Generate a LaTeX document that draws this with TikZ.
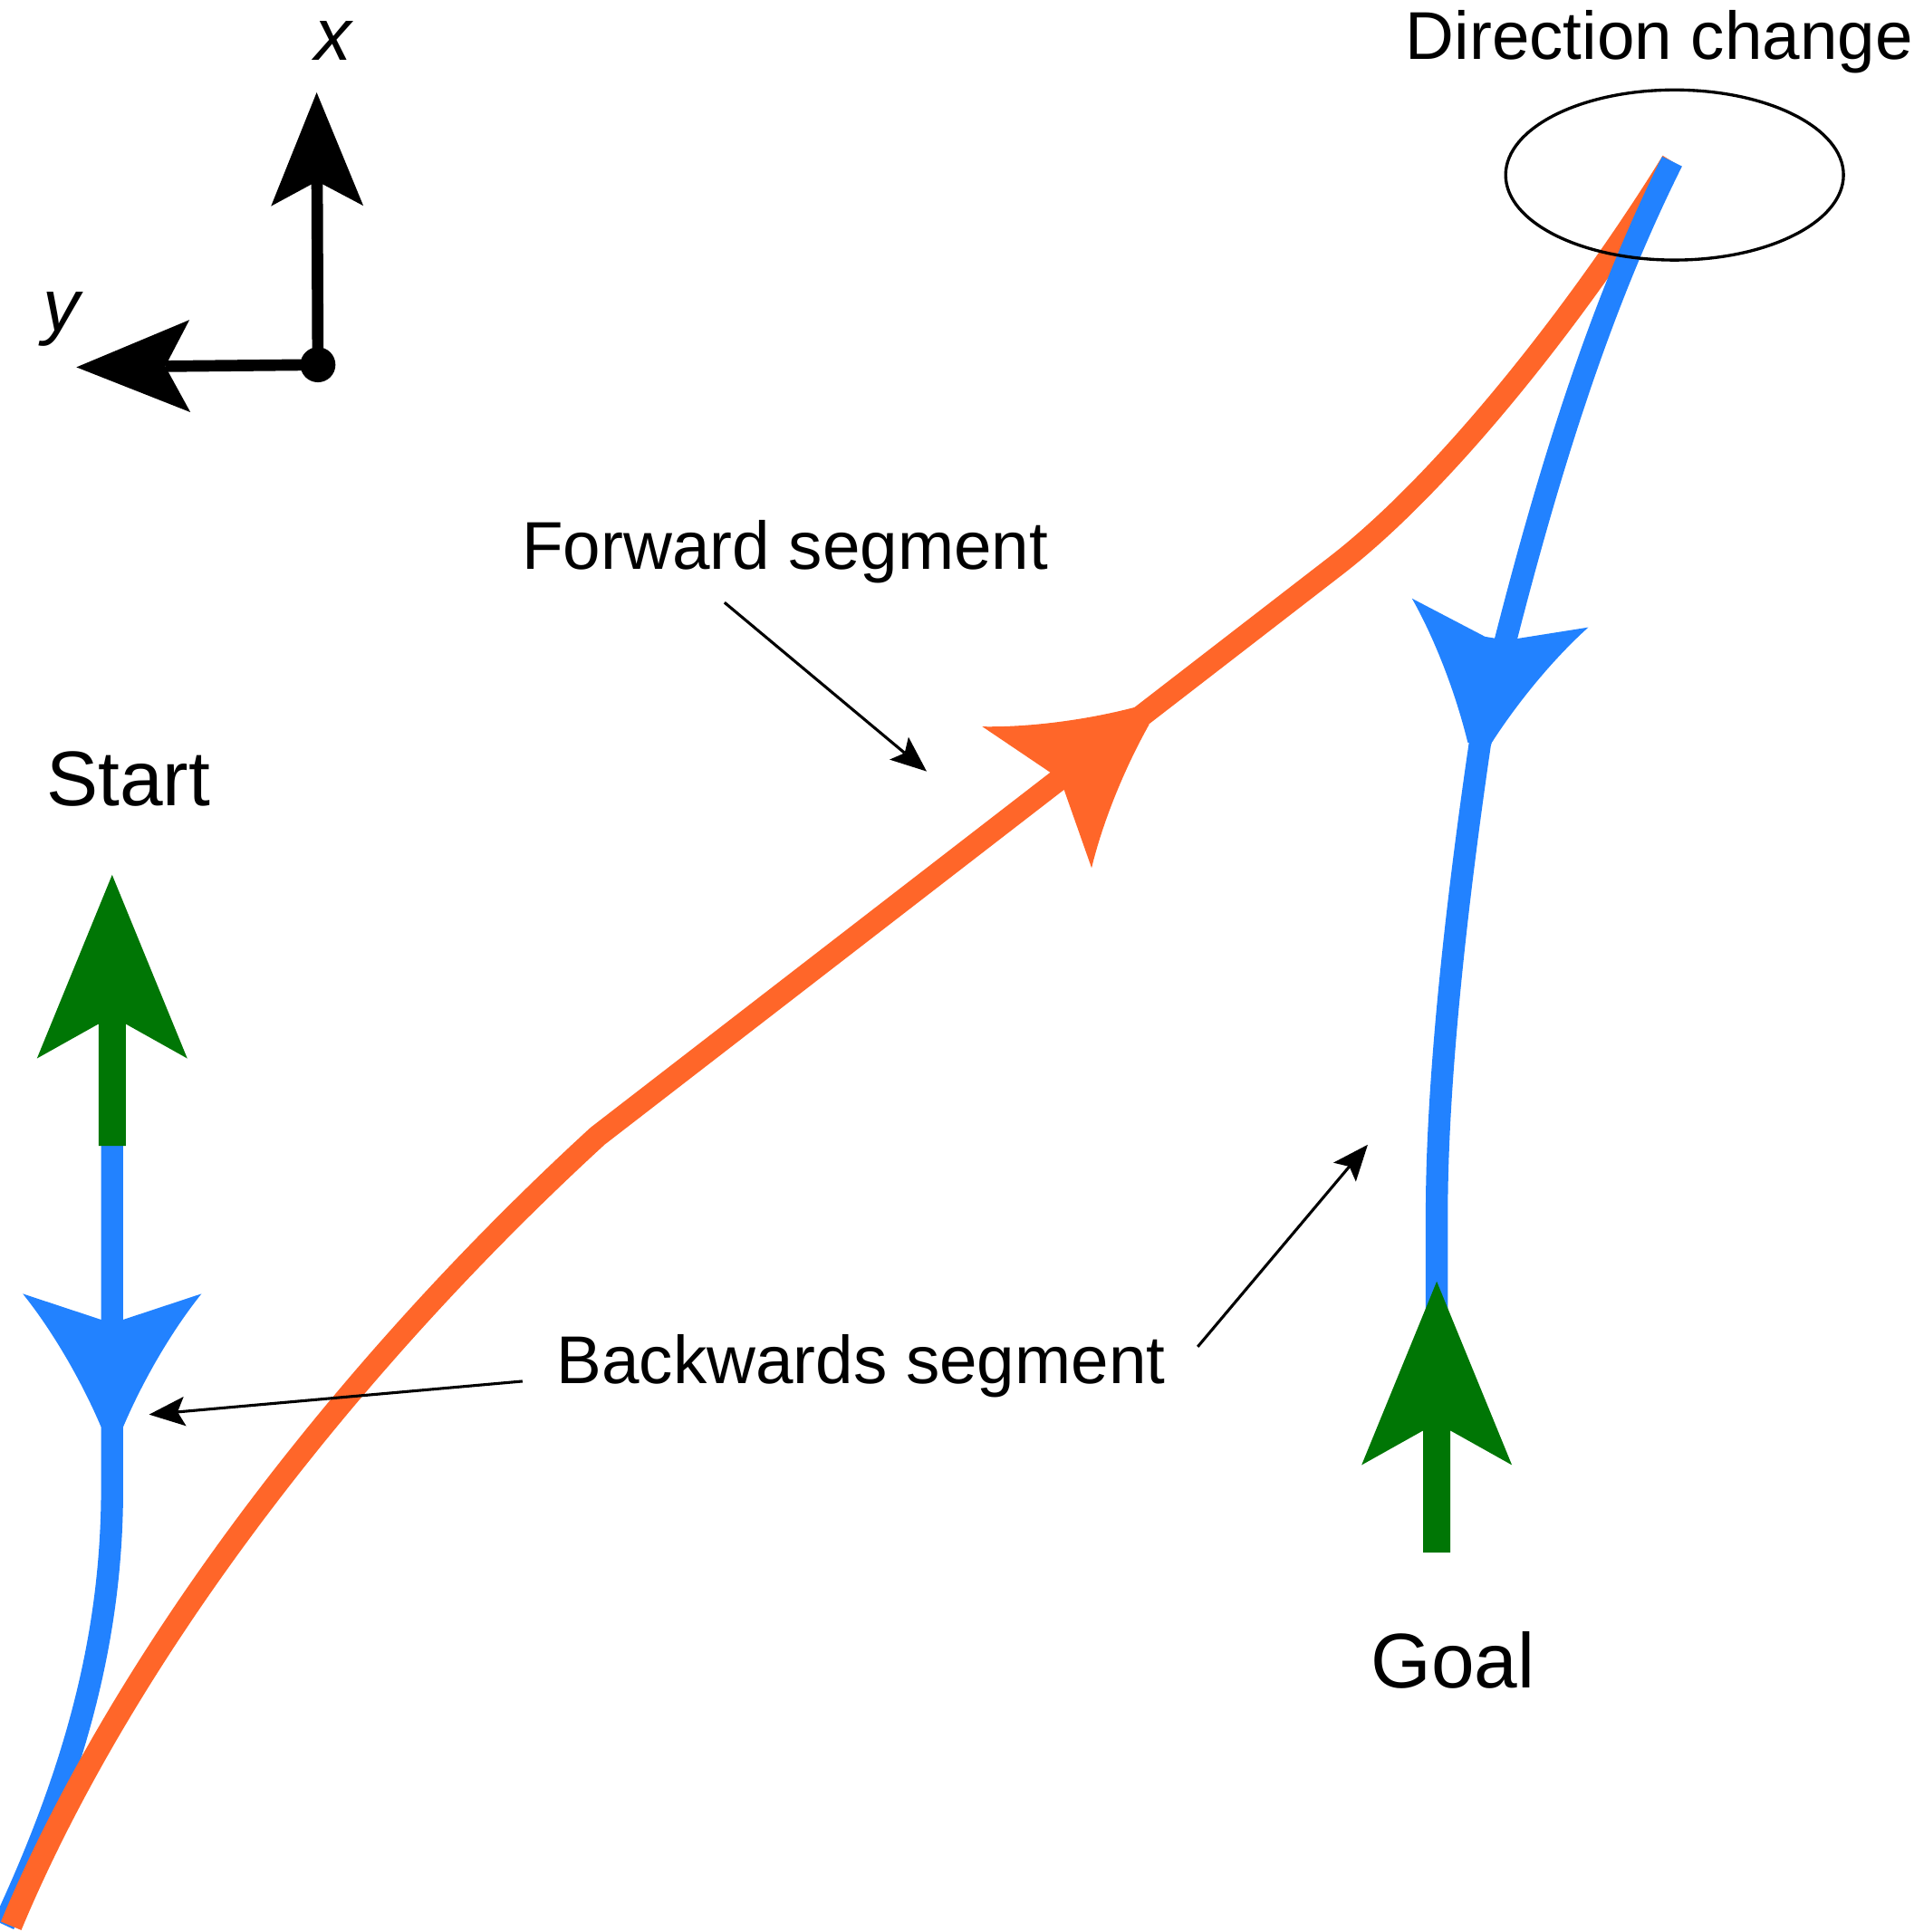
\documentclass[tikz,border=0pt]{standalone}
\usepackage{fontspec}
\setmainfont{Liberation Sans}
\usetikzlibrary{arrows.meta}
\definecolor{pathorange}{RGB}{255,102,41}
\definecolor{pathblue}{RGB}{34,130,255}
\definecolor{pathgreen}{RGB}{0,118,5}
\begin{document}
\begin{tikzpicture}[x=0.01cm, y=-0.01cm,
  trackline/.style={line width=5.1pt, line cap=butt},
  axisline/.style={line width=2.65pt, -{Stealth[length=26.2pt, width=21.3pt, inset=5.7pt, line width=0pt]}},
  annot/.style={line width=0.65pt, -{Stealth[length=8.3pt, width=6.8pt, inset=1.7pt, line width=0pt]}},
  lbl/.style={anchor=base west, inner sep=0pt, font=\fontsize{15.6pt}{18pt}\selectfont},
  biglbl/.style={anchor=base west, inner sep=0pt, font=\fontsize{17.9pt}{21pt}\selectfont},
  axlbl/.style={anchor=base west, inner sep=0pt, font=\fontsize{17pt}{20pt}\selectfont\itshape},
  sweptarrow/.pic={
    \fill[#1] (-87,9) -- (-108,72.5) .. controls (-80,50) and (-40,26) .. (0,9) -- (0,-9)
      .. controls (-40,-26) and (-80,-50) .. (-108,-72.5) -- (-87,-9) -- cycle;
  },
  greenarrow/.pic={
    \fill[pathgreen] (0,0) -- (-149,61) -- (-121,11) -- (-220,11) -- (-220,-11)
      -- (-121,-11) -- (-149,-61) -- cycle;
  }]
\useasboundingbox (0,0) rectangle (1553,1568);

% backwards segment near start
\draw[trackline, pathblue] (91,930) -- (91,1208) .. controls (91,1330) and (60,1440) .. (3,1562);
\pic[rotate=-90] at (91,1158) {sweptarrow=pathblue};

% start pose
\pic[rotate=90] at (91,710) {greenarrow};

% forward segment
\draw[trackline, pathorange] (9,1563) .. controls (100,1345) and (280,1110) .. (485,922)
  -- (1083,460) .. controls (1178,387) and (1290,240) .. (1357,131);
\pic[rotate=37.7] at (927,581) {sweptarrow=pathorange};

% backwards segment to goal
\draw[trackline, pathblue] (1357,131) .. controls (1290,265) and (1245,420) .. (1201,604)
  .. controls (1184,720) and (1166,870) .. (1166,985) -- (1166,1100);
\pic[rotate=-99.3] at (1200,604) {sweptarrow=pathblue};

% goal pose
\pic[rotate=90] at (1166,1040) {greenarrow};

% direction change marker
\draw[line width=0.7pt] (1359,142) ellipse [x radius=1.37cm, y radius=0.69cm];

% axes
\node[circle, fill=black, inner sep=0pt, minimum size=8.1pt] (origin) at (258,296) {};
\coordinate (xtip) at (257,75);
\coordinate (ytip) at (62,298);
\draw[axisline] (origin.center) -- (xtip);
\draw[axisline] (origin.center) -- (ytip);
\node[axlbl] (xlab) at (255,49) {x};
\node[axlbl] (ylab) at (34,269) {y};

% annotation arrows
\coordinate (fwdA) at (588,489);
\coordinate (fwdB) at (752,626);
\coordinate (bwdA) at (424,1121);
\coordinate (bwdB) at (121,1148);
\coordinate (bwdC) at (972,1093);
\coordinate (bwdD) at (1110,929);
\draw[annot] (fwdA) -- (fwdB);
\draw[annot] (bwdA) -- (bwdB);
\draw[annot] (bwdC) -- (bwdD);

% labels
\node[lbl] (dirlab) at (1140,48) {Direction change};
\node[lbl] (fwdlab) at (423,462) {Forward segment};
\node[lbl] (bwdlab) at (451,1123) {Backwards segment};
\node[biglbl] (startlab) at (37,654) {Start};
\node[biglbl] (goallab) at (1112,1370) {Goal};
\end{tikzpicture}
\end{document}
